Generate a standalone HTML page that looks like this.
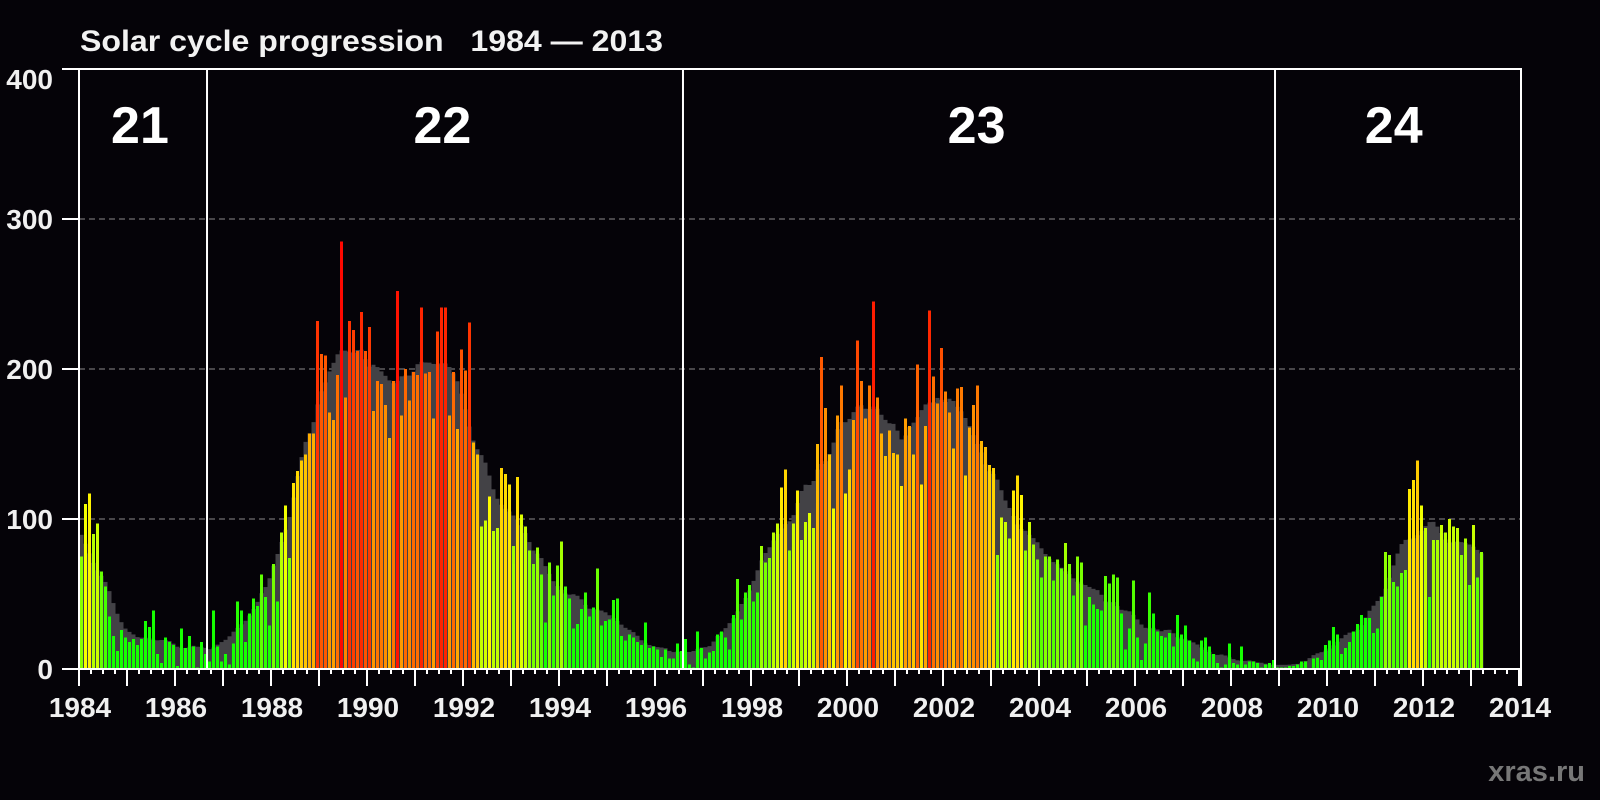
<!DOCTYPE html>
<html><head><meta charset="utf-8"><title>Solar cycle progression 1984 — 2013</title>
<style>
html,body{margin:0;padding:0;background:#050308;}
svg{display:block;}
text{font-family:"Liberation Sans",Arial,sans-serif;font-weight:bold;}
</style></head>
<body>
<svg id="chart" width="1600" height="800" viewBox="0 0 1600 800" xmlns="http://www.w3.org/2000/svg">
<rect x="0" y="0" width="1600" height="800" fill="#050308"/>
<text x="80" y="51" fill="#f2f2f2" font-size="30" textLength="583" lengthAdjust="spacingAndGlyphs" style="white-space:pre" xml:space="preserve">Solar cycle progression   1984 — 2013</text>
<g id="grid"></g>
<g id="smooth"></g>
<g id="bars"></g>
<g id="frame"></g>
<g id="labels"></g>
<text x="1585" y="781" fill="#777777" font-size="29" text-anchor="end">xras.ru</text>
</svg>
<script>
// Monthly sunspot numbers, Jan 1984 .. Mar 2013
const startYear = 1984;
const monthlyValues = [
75,110,117,90,97,65,55,35,22,12,
26,21,18,20,16,20,32,28,39,10,
4,21,18,16,2,27,14,22,15,1,
18,10,5,39,15,5,10,3,17,45,
39,18,37,47,42,63,48,29,70,45,
91,109,74,124,132,139,143,157,157,232,
210,209,171,166,196,285,181,232,226,212,
238,212,228,172,192,190,176,154,192,252,
169,200,179,198,196,241,197,198,167,225,
241,241,169,198,160,213,199,231,151,143,
95,99,115,92,94,134,130,123,82,128,
103,95,79,70,81,63,31,71,49,69,
85,55,47,27,30,40,51,35,41,67,
29,32,33,46,47,22,19,23,21,18,
16,31,14,15,13,8,13,7,7,17,
12,20,3,1,25,14,7,11,12,23,
25,21,13,36,60,33,51,56,45,51,
82,71,74,91,97,121,133,79,97,119,
86,98,104,94,150,208,174,143,107,169,
189,117,133,166,219,192,167,189,245,181,
157,142,159,144,143,122,167,162,143,203,
123,162,239,195,177,214,185,171,147,187,
188,129,161,176,189,152,148,136,134,76,
101,98,87,119,129,116,79,98,83,73,
61,75,75,59,73,67,84,70,49,75,
71,29,48,43,40,39,62,57,63,61,
37,13,27,59,21,6,17,51,37,25,
22,21,24,15,36,23,29,19,7,5,
19,21,15,10,4,1,3,17,4,3,
15,3,5,5,4,1,3,4,6,1,
1,1,2,2,3,5,5,0,7,7.5,
6,16,19,28,23,10,14,18,25,30,
36,34,34,24,27,48,78,76,58,55,
64,66,120,126,139,109,94,48,86,86,
96,91,100,95,94,76,87,56,96,61,78
];
const yTicks = [0,100,200,300,400];
const yTickLabels = ["0","100","200","300","400"];
const xLabelYears = [1984,1986,1988,1990,1992,1994,1996,1998,2000,2002,2004,2006,2008,2010,2012,2014];
const cycleBoundaries = [1986.667, 1996.583, 2008.917];
const cycleNames = ["21","22","23","24"];
const cycleLabelYears = [1985.27, 1991.57, 2002.7, 2011.39];

const NS = "http://www.w3.org/2000/svg";
const X0 = 79, PX_PER_YEAR = 48, Y0 = 669, PX_PER_UNIT = 1.5;
function xScale(year){ return X0 + (year - startYear) * PX_PER_YEAR; }
function yScale(v){ return Y0 - v * PX_PER_UNIT; }
function mk(tag, attrs, parent){
  const e = document.createElementNS(NS, tag);
  for (const k in attrs) e.setAttribute(k, attrs[k]);
  parent.appendChild(e); return e;
}
function colorFor(v){
  let h;
  if (v <= 40) h = 115;
  else if (v <= 120) h = 115 - (v - 40) * 0.75;
  else h = Math.max(2, 55 - (v - 120) * (50/130));
  return "hsl(" + h.toFixed(1) + ",100%,50%)";
}
const grid = document.getElementById("grid");
const smooth = document.getElementById("smooth");
const bars = document.getElementById("bars");
const frame = document.getElementById("frame");
const labels = document.getElementById("labels");

yTicks.forEach(function(t){
  if (t === 0 || t === 400) return;
  const l = mk("line", {x1: X0, x2: 1521, y1: yScale(t), y2: yScale(t), stroke: "#8a8a8a", "stroke-width": 1, "stroke-dasharray": "6,4"}, grid);
  
  
});

const n = monthlyValues.length;
for (let i = 0; i < n; i++) {
  let s = 0, w = 0;
  for (let k = -6; k <= 6; k++) {
    const j = i + k; if (j < 0 || j >= n) continue;
    const wt = (Math.abs(k) === 6) ? 0.5 : 1;
    s += monthlyValues[j] * wt; w += wt;
  }
  const m = s / w;
  const x = xScale(startYear + i / 12) + 0.5;
  const r = mk("rect", {x: x, y: yScale(m), width: 4, height: m * PX_PER_UNIT, fill: "#434246"}, smooth);
  
  
}
monthlyValues.forEach(function(v, i){
  const x = xScale(startYear + i / 12) + 1;
  const r = mk("rect", {x: x, y: yScale(v), width: 3, height: v * PX_PER_UNIT, fill: colorFor(v)}, bars);
  
  
});

const fs = {stroke: "#ffffff", "stroke-width": 2};
let e;
e = mk("line", Object.assign({x1: 62, x2: 1522, y1: 69, y2: 69}, fs), frame);
 
e = mk("line", Object.assign({x1: 62, x2: 1522, y1: Y0, y2: Y0}, fs), frame);
 
e = mk("line", Object.assign({x1: X0, x2: X0, y1: 69, y2: Y0}, fs), frame);
 
e = mk("line", Object.assign({x1: 1521, x2: 1521, y1: 69, y2: Y0 + 17}, fs), frame);
 
cycleBoundaries.forEach(function(b){
  const l = mk("line", Object.assign({x1: xScale(b), x2: xScale(b), y1: 69, y2: Y0}, fs), frame);
  
  
});
yTicks.forEach(function(t, i){
  const l = mk("line", Object.assign({x1: 62, x2: X0, y1: yScale(t), y2: yScale(t)}, fs), frame);
  
  
  const cy = (t === 400) ? 79 : yScale(t);
  const tx = mk("text", {x: 53, y: cy + 10, fill: "#f0f0f0", "font-size": 28, "text-anchor": "end"}, labels);
  tx.textContent = yTickLabels[i];
  
  
});
for (let q = 0; q <= 120; q++) {
  const x = xScale(startYear + q / 4);
  const major = (q % 4 === 0);
  const l = mk("line", {x1: x, x2: x, y1: Y0, y2: Y0 + (major ? 17 : 5), stroke: "#ffffff", "stroke-width": 2}, frame);
  
  
}
xLabelYears.forEach(function(yr){
  const t = mk("text", {x: xScale(yr) + 1, y: 717, fill: "#f0f0f0", "font-size": 28, "text-anchor": "middle"}, labels);
  t.textContent = String(yr);
  
  
});
cycleNames.forEach(function(c, i){
  const t = mk("text", {x: xScale(cycleLabelYears[i]), y: 143, fill: "#ffffff", "font-size": 52, "text-anchor": "middle"}, labels);
  t.textContent = c;
  
  
});
</script>
</body></html>
